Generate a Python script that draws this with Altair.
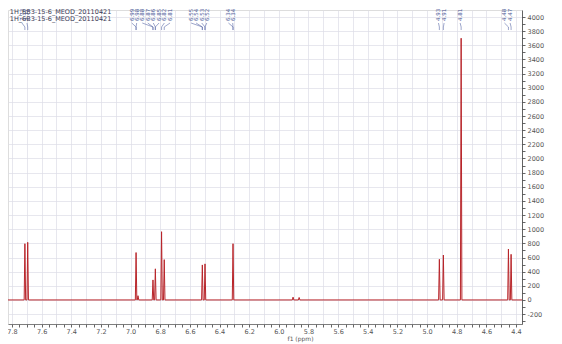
import altair as alt
import pandas as pd

# ---- data ----
peak_ppm = [7.713, 7.694, 6.963, 6.950, 6.849, 6.833, 6.791, 6.773, 6.516, 6.498,
            6.309, 5.904, 5.863, 4.917, 4.890, 4.770, 4.451, 4.433]
peak_int = [795, 815, 670, 60, 283, 440, 965, 570, 495, 510,
            795, 40, 35, 575, 635, 3700, 720, 645]
half_width = 0.005

label_text = ["7.73", "7.71", "6.99", "6.98", "6.88", "6.87", "6.86", "6.85", "6.82", "6.81",
              "6.55", "6.54", "6.53", "6.52", "6.34", "6.34", "4.93", "4.91", "4.81", "4.48", "4.47"]
label_ppm = [7.733, 7.699, 6.992, 6.959, 6.921, 6.884, 6.847, 6.808, 6.772, 6.734,
             6.592, 6.558, 6.520, 6.486, 6.340, 6.311, 4.923, 4.885, 4.777, 4.478, 4.440]
label_peak = [7.713, 7.694, 6.963, 6.963, 6.849, 6.849, 6.833, 6.833, 6.791, 6.773,
              6.516, 6.516, 6.498, 6.498, 6.309, 6.309, 4.917, 4.890, 4.770, 4.451, 4.433]

legend_lines = ["1H_6B3-15-6_MEOD_20110421", "1H_6B3-15-6_MEOD_20110421"]

x_min, x_max = 4.3595, 7.827
y_min, y_max = -340, 4099
x_ticks = [round(4.4 + 0.05 * i, 2) for i in range(69)]
y_ticks = list(range(-300, 4001, 100))

# ---- tables ----
rows = [{"ppm": x_max, "val": 0}, {"ppm": x_min, "val": 0}]
for p, h in zip(peak_ppm, peak_int):
    rows += [{"ppm": p + half_width, "val": 0}, {"ppm": p, "val": h}, {"ppm": p - half_width, "val": 0}]
spec = pd.DataFrame(rows).sort_values("ppm")

y_text, y_c1, y_c2, y_c3 = 3943, 3915, 3859, 3816
lab = pd.DataFrame({"ppm": label_ppm, "val": [y_text] * len(label_ppm), "t": label_text})
seg_a = pd.DataFrame({"ppm": label_ppm, "ppm2": label_peak,
                      "val": [y_c1] * len(label_ppm), "val2": [y_c2] * len(label_ppm)})
seg_b = pd.DataFrame({"ppm": label_peak, "ppm2": label_peak,
                      "val": [y_c2] * len(label_ppm), "val2": [y_c3] * len(label_ppm)})
seg = pd.concat([seg_a, seg_b], ignore_index=True)
leg = pd.DataFrame({"ppm": [7.815, 7.815], "val": [4113, 4014], "t": legend_lines})

font = "DejaVu Sans"
x_axis = alt.Axis(values=x_ticks,
                  labelExpr="abs(datum.value*5 - round(datum.value*5)) < 0.01 ? format(datum.value, '.1f') : ''",
                  grid=True, gridColor="#dcdce6", gridWidth=0.7,
                  gridOpacity={"condition": {"test": "abs(datum.value*10 - round(datum.value*10)) < 0.01", "value": 1}, "value": 0},
                  tickSize=3, tickColor="#666", domainColor="#666", domainWidth=0.8,
                  labelFontSize=6.5, labelColor="#555", labelFont=font, labelPadding=1,
                  labelOverlap=False, labelFlush=False,
                  title="f1 (ppm)", titleFontSize=6, titleFontWeight="normal", titleColor="#555",
                  titleFont=font, titlePadding=1, titleX=292)
y_axis = alt.Axis(orient="right", values=y_ticks,
                  labelExpr="datum.value % 200 == 0 ? datum.value : ''",
                  grid=True, gridColor="#dcdce6", gridWidth=0.7,
                  gridOpacity={"condition": {"test": "datum.value % 200 == 0", "value": 1}, "value": 0},
                  tickSize=3, tickColor="#666", domainColor="#444", domainWidth=0.8,
                  labelFontSize=6.5, labelColor="#555", labelFont=font, labelPadding=2,
                  labelOverlap=False, labelFlush=False, title=None)

x_enc = alt.X("ppm:Q", scale=alt.Scale(domain=[x_min, x_max], reverse=True, nice=False, zero=False), axis=x_axis)
y_enc = alt.Y("val:Q", scale=alt.Scale(domain=[y_min, y_max], nice=False, zero=False), axis=y_axis)

line = alt.Chart(spec).mark_line(color="#b8252a", strokeWidth=1, clip=True).encode(x=x_enc, y=y_enc, order="ppm:Q")
conn = alt.Chart(seg).mark_rule(color="#5b6aa8", strokeWidth=0.6).encode(x=x_enc, y=y_enc, x2="ppm2:Q", y2="val2:Q")
labels = alt.Chart(lab).mark_text(angle=270, align="left", baseline="middle", fontSize=5.5,
                                  font=font, color="#4a5896").encode(x=x_enc, y=y_enc, text="t:N")
legend = alt.Chart(leg).mark_text(align="left", baseline="top", fontSize=6.5, font=font,
                                  color="#3a3a55").encode(x=x_enc, y=y_enc, text="t:N")

chart = alt.layer(line, conn, labels, legend).properties(
    width=514, height=314,
    autosize=alt.AutoSizeParams(type="none"),
    padding={"left": 0, "top": 2, "right": 32, "bottom": 22},
).configure_view(stroke=None).configure(background="white")

chart.save("out.html", embed_options={"renderer": "svg", "actions": False})
